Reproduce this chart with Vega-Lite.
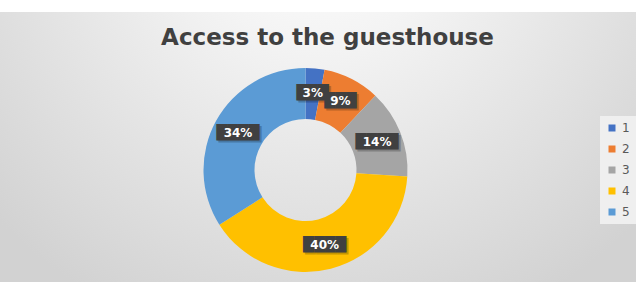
{
  "$schema": "https://vega.github.io/schema/vega-lite/v6.json",
  "width": 661,
  "height": 316,
  "autosize": {"type": "none"},
  "padding": {"left": -25, "top": 12, "right": 0, "bottom": -46},
  "background": "#ffffff",
  "title": {
    "text": "Access to the guesthouse",
    "font": "DejaVu Sans",
    "fontSize": 23,
    "fontWeight": "bold",
    "color": "#404040",
    "anchor": "middle",
    "baseline": "alphabetic",
    "dx": 22,
    "offset": -56
  },
  "config": {
    "view": {"stroke": "#d0d0d0", "strokeWidth": 1}
  },
  "data": {
    "values": [
      {"cat": "1", "value": 0.03},
      {"cat": "2", "value": 0.09},
      {"cat": "3", "value": 0.14},
      {"cat": "4", "value": 0.40},
      {"cat": "5", "value": 0.34}
    ]
  },
  "layer": [
    {
      "data": {"values": [{}]},
      "mark": {
        "type": "rect",
        "color": {
          "gradient": "radial",
          "x1": 0.52, "y1": 0.1, "r1": 0,
          "x2": 0.52, "y2": 0.1, "r2": 0.68,
          "stops": [
            {"offset": 0, "color": "#ffffff"},
            {"offset": 0.3, "color": "#f4f4f4"},
            {"offset": 1, "color": "#d2d2d2"}
          ]
        }
      },
      "encoding": {}
    },
    {
      "mark": {"type": "arc", "outerRadius": 102, "innerRadius": 51},
      "encoding": {
        "theta": {"field": "value", "type": "quantitative", "stack": true},
        "order": {"field": "cat", "type": "ordinal", "sort": "ascending"},
        "color": {
          "field": "cat",
          "type": "nominal",
          "scale": {
            "domain": ["1", "2", "3", "4", "5"],
            "range": ["#4472C4", "#ED7D31", "#A5A5A5", "#FFC000", "#5B9BD5"]
          },
          "legend": {
            "title": null,
            "orient": "none",
            "legendX": 625,
            "legendY": 104,
            "symbolType": "square",
            "symbolSize": 49,
            "symbolStrokeWidth": 0,
            "labelFont": "DejaVu Sans",
            "labelFontSize": 12,
            "labelColor": "#595959",
            "rowPadding": 9,
            "padding": 6,
            "fillColor": "#efefef"
          }
        }
      }
    },
    {
      "mark": {"type": "text", "radius": 77, "font": "DejaVu Sans", "fontSize": 14, "baseline": "middle", "align": "center", "dx": 2, "dy": 2, "opacity": 0.22},
      "encoding": {
        "theta": {"field": "value", "type": "quantitative", "stack": true},
        "order": {"field": "cat", "type": "ordinal", "sort": "ascending"},
        "text": {"condition": {"test": "datum.value < 0.1", "value": "███"}, "value": "████"},
        "color": {"value": "#000000"}
      }
    },
    {
      "mark": {"type": "text", "radius": 77, "font": "DejaVu Sans", "fontSize": 14, "baseline": "middle", "align": "center"},
      "encoding": {
        "theta": {"field": "value", "type": "quantitative", "stack": true},
        "order": {"field": "cat", "type": "ordinal", "sort": "ascending"},
        "text": {"condition": {"test": "datum.value < 0.1", "value": "███"}, "value": "████"},
        "color": {"value": "#404040"}
      }
    },
    {
      "mark": {"type": "text", "radius": 77, "font": "DejaVu Sans", "fontSize": 12, "fontWeight": "bold", "baseline": "middle", "align": "center"},
      "encoding": {
        "theta": {"field": "value", "type": "quantitative", "stack": true},
        "order": {"field": "cat", "type": "ordinal", "sort": "ascending"},
        "text": {"field": "value", "type": "quantitative", "format": ".0%"},
        "color": {"value": "#ffffff"}
      }
    }
  ]
}
